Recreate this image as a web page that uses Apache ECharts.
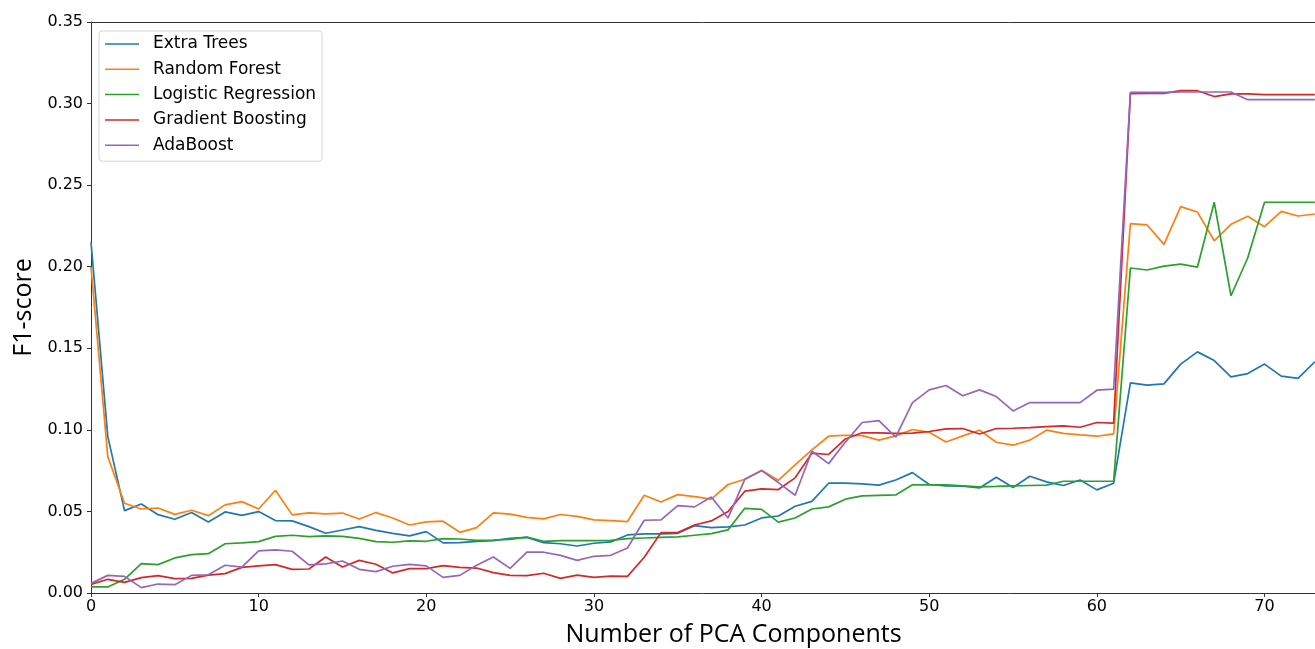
<!DOCTYPE html>
<html>
<head>
<meta charset="utf-8">
<script src="https://cdn.jsdelivr.net/npm/echarts@6/dist/echarts.min.js"></script>
<style>
  html, body { margin: 0; padding: 0; background: #fff; }
  #chart { width: 1315px; height: 649px; }
</style>
</head>
<body>
<div id="chart"></div>
<script>
// Number of PCA components kept (0 .. 73)
const components = Array.from({ length: 74 }, (_, i) => i);

const extraTrees = [
  0.215, 0.096, 0.0505, 0.0546, 0.0480, 0.0452, 0.0493, 0.0435, 0.0497, 0.0476,
  0.0499, 0.0444, 0.0442, 0.0407, 0.0366, 0.0386, 0.0407, 0.0384, 0.0366, 0.0350,
  0.0376, 0.0307, 0.0309, 0.0317, 0.0321, 0.0335, 0.0341, 0.0309, 0.0302, 0.0288,
  0.0305, 0.0313, 0.0356, 0.0362, 0.0362, 0.0366, 0.0413, 0.0401, 0.0405, 0.0417,
  0.0460, 0.0472, 0.0532, 0.0562, 0.0673, 0.0673, 0.0669, 0.0661, 0.0693, 0.0738,
  0.0665, 0.0657, 0.0655, 0.0644, 0.0710, 0.0647, 0.0716, 0.0681, 0.0659, 0.0693,
  0.0632, 0.0673, 0.1288, 0.1274, 0.1282, 0.1403, 0.1478, 0.1425, 0.1325, 0.1345,
  0.1403, 0.1329, 0.1315, 0.1417
];

const randomForest = [
  0.200, 0.0836, 0.0550, 0.0515, 0.0521, 0.0482, 0.0507, 0.0474, 0.0540, 0.0560,
  0.0515, 0.0630, 0.0479, 0.0491, 0.0485, 0.0490, 0.0454, 0.0493, 0.0460, 0.0417,
  0.0436, 0.0440, 0.0372, 0.0401, 0.0491, 0.0483, 0.0464, 0.0454, 0.0481, 0.0470,
  0.0448, 0.0444, 0.0438, 0.0599, 0.0558, 0.0603, 0.0591, 0.0575, 0.0665, 0.0697,
  0.0752, 0.0691, 0.0785, 0.0877, 0.0961, 0.0967, 0.0965, 0.0937, 0.0963, 0.1002,
  0.0985, 0.0926, 0.0963, 0.0998, 0.0924, 0.0906, 0.0937, 0.0998, 0.0978, 0.0969,
  0.0961, 0.0975, 0.2264, 0.2256, 0.2137, 0.2368, 0.2335, 0.2159, 0.2260, 0.2309,
  0.2245, 0.2339, 0.2311, 0.2323
];

const logisticRegression = [
  0.0037, 0.0037, 0.0084, 0.0180, 0.0174, 0.0215, 0.0235, 0.0241, 0.0302, 0.0307,
  0.0315, 0.0347, 0.0354, 0.0345, 0.0350, 0.0347, 0.0335, 0.0315, 0.0311, 0.0319,
  0.0317, 0.0333, 0.0331, 0.0323, 0.0325, 0.0329, 0.0343, 0.0317, 0.0321, 0.0321,
  0.0321, 0.0323, 0.0333, 0.0337, 0.0341, 0.0344, 0.0354, 0.0364, 0.0387, 0.0519,
  0.0513, 0.0434, 0.0460, 0.0515, 0.0528, 0.0575, 0.0595, 0.0599, 0.0601, 0.0663,
  0.0663, 0.0663, 0.0657, 0.0651, 0.0653, 0.0657, 0.0659, 0.0661, 0.0685, 0.0685,
  0.0685, 0.0685, 0.1992, 0.1980, 0.2004, 0.2016, 0.1998, 0.2395, 0.1822, 0.2055,
  0.2395, 0.2395, 0.2395, 0.2395
];

const gradientBoosting = [
  0.0053, 0.0084, 0.0065, 0.0094, 0.0106, 0.0088, 0.0090, 0.0110, 0.0119, 0.0157,
  0.0166, 0.0174, 0.0145, 0.0147, 0.0221, 0.0159, 0.0200, 0.0176, 0.0123, 0.0149,
  0.0149, 0.0168, 0.0157, 0.0153, 0.0125, 0.0108, 0.0106, 0.0121, 0.0090, 0.0110,
  0.0096, 0.0104, 0.0102, 0.0219, 0.0370, 0.0370, 0.0417, 0.0442, 0.0499, 0.0624,
  0.0638, 0.0634, 0.0706, 0.0857, 0.0849, 0.0944, 0.0982, 0.0982, 0.0978, 0.0980,
  0.0990, 0.1006, 0.1008, 0.0975, 0.1008, 0.1010, 0.1014, 0.1020, 0.1024, 0.1016,
  0.1045, 0.1041, 0.3061, 0.3063, 0.3063, 0.3079, 0.3079, 0.3043, 0.3059, 0.3059,
  0.3055, 0.3055, 0.3055, 0.3055
];

const adaBoost = [
  0.0059, 0.0108, 0.0102, 0.0033, 0.0055, 0.0051, 0.0108, 0.0112, 0.0170, 0.0159,
  0.0258, 0.0264, 0.0256, 0.0172, 0.0178, 0.0196, 0.0145, 0.0131, 0.0164, 0.0176,
  0.0166, 0.0096, 0.0108, 0.0170, 0.0221, 0.0151, 0.0250, 0.0250, 0.0231, 0.0200,
  0.0225, 0.0231, 0.0276, 0.0446, 0.0448, 0.0536, 0.0528, 0.0589, 0.0460, 0.0697,
  0.0750, 0.0677, 0.0599, 0.0869, 0.0793, 0.0925, 0.1045, 0.1057, 0.0955, 0.1167,
  0.1245, 0.1272, 0.1209, 0.1245, 0.1204, 0.1116, 0.1167, 0.1167, 0.1167, 0.1167,
  0.1243, 0.1250, 0.3069, 0.3069, 0.3069, 0.3071, 0.3071, 0.3071, 0.3071, 0.3024,
  0.3024, 0.3024, 0.3024, 0.3024
];

const seriesNames = ['Extra Trees', 'Random Forest', 'Logistic Regression', 'Gradient Boosting', 'AdaBoost'];
const seriesValues = [extraTrees, randomForest, logisticRegression, gradientBoosting, adaBoost];
const seriesColors = ['#1f77b4', '#ff7f0e', '#2ca02c', '#d62728', '#9467bd'];

const tickFont = 'DejaVu Sans';
const titleFont = 'Open Sans';

const chart = echarts.init(document.getElementById('chart'), null, { renderer: 'canvas' });

chart.setOption({
  animation: false,
  backgroundColor: '#ffffff',
  color: seriesColors,
  // the axes box runs a little past the right edge of the canvas
  grid: { left: 91, top: 22, right: -61, bottom: 56, containLabel: false, outerBoundsMode: 'none' },
  legend: {
    orient: 'vertical',
    left: 99,
    top: 31,
    icon: 'rect',
    itemWidth: 34,
    itemHeight: 1.5,
    itemGap: 7.3,
    padding: [4, 6, 7, 6],
    borderColor: '#d6d6d6',
    borderWidth: 1,
    borderRadius: 3,
    backgroundColor: 'rgba(255,255,255,0.8)',
    textStyle: {
      fontFamily: tickFont,
      fontSize: 17,
      color: '#000',
      lineHeight: 18,
      padding: [0, 0, 0, 9]
    },
    data: seriesNames
  },
  xAxis: [
    {
      type: 'value',
      min: 0,
      max: 76.65,
      interval: 10,
      name: 'Number of PCA Components',
      nameLocation: 'middle',
      nameGap: 29,
      nameTextStyle: { fontFamily: titleFont, fontSize: 25, color: '#000' },
      axisLine: { show: true, lineStyle: { color: '#333', width: 1 } },
      axisTick: { show: true, length: 4, lineStyle: { color: '#333' } },
      axisLabel: {
        fontFamily: tickFont, fontSize: 16, color: '#000', margin: 6,
        showMaxLabel: false
      },
      splitLine: { show: false }
    },
    {
      type: 'value',
      position: 'top',
      min: 0,
      max: 76.65,
      axisLine: { show: true, lineStyle: { color: '#333', width: 1 } },
      axisTick: { show: false },
      axisLabel: { show: false },
      splitLine: { show: false }
    }
  ],
  yAxis: {
    type: 'value',
    min: 0,
    max: 0.35,
    interval: 0.05,
    name: 'F1-score',
    nameLocation: 'middle',
    nameGap: 55,
    nameTextStyle: { fontFamily: titleFont, fontSize: 25, color: '#000' },
    axisLine: { show: true, lineStyle: { color: '#333', width: 1 } },
    axisTick: { show: true, length: 4, lineStyle: { color: '#333' } },
    axisLabel: {
      fontFamily: tickFont, fontSize: 16, color: '#000', margin: 8,
      formatter: v => v.toFixed(2)
    },
    splitLine: { show: false }
  },
  series: seriesNames.map((name, k) => ({
    name,
    type: 'line',
    xAxisIndex: 0,
    symbol: 'none',
    lineStyle: { width: 1.7, color: seriesColors[k] },
    itemStyle: { color: seriesColors[k] },
    data: components.map((c, i) => [c, seriesValues[k][i]])
  }))
});
</script>
</body>
</html>
